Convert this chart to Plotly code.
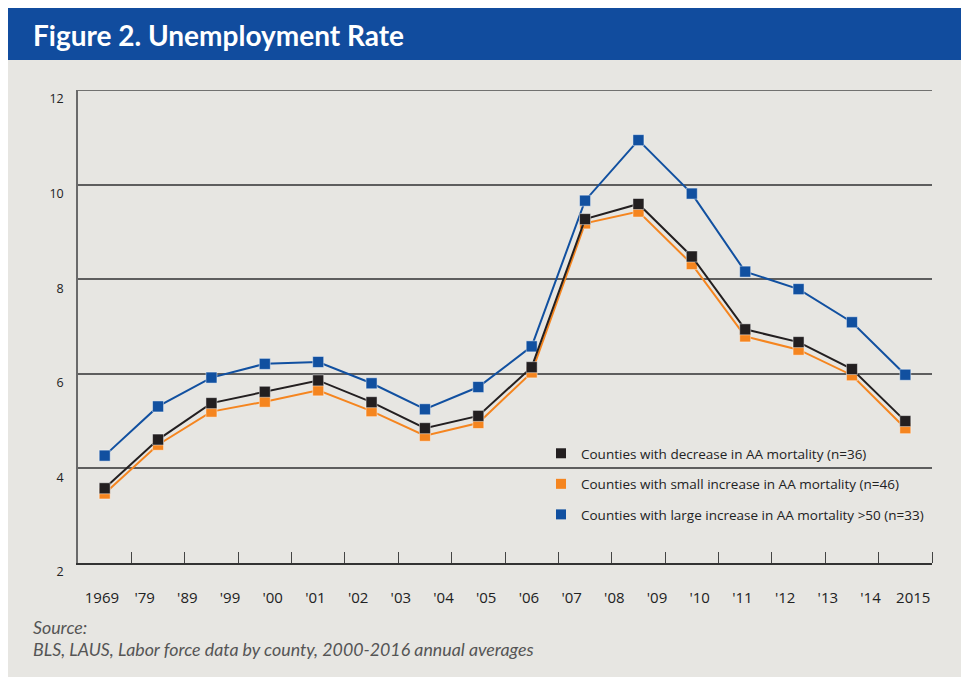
import plotly.graph_objects as go

# ---- data ----
years = list(range(2000, 2016))
decrease = [3.58, 4.61, 5.38, 5.62, 5.86, 5.40, 4.85, 5.11, 6.14, 9.27, 9.59, 8.48, 6.94, 6.67, 6.10, 5.00]
small_increase = [3.47, 4.50, 5.20, 5.41, 5.65, 5.21, 4.69, 4.96, 6.03, 9.18, 9.43, 8.32, 6.79, 6.51, 5.97, 4.85]
large_increase = [4.27, 5.31, 5.92, 6.21, 6.25, 5.80, 5.25, 5.72, 6.58, 9.66, 10.94, 9.81, 8.16, 7.79, 7.09, 5.98]
tick_labels = ["1969", "'79", "'89", "'99", "'00", "'01", "'02", "'03", "'04", "'05",
               "'06", "'07", "'08", "'09", "'10", "'11", "'12", "'13", "'14", "2015"]
y_ticks = [2, 4, 6, 8, 10, 12]
names = ["Counties with decrease in AA mortality (n=36)",
         "Counties with small increase in AA mortality (n=46)",
         "Counties with large increase in AA mortality >50 (n=33)"]

BLACK = "#231f20"
ORANGE = "#f5851f"
BLUE = "#1150a0"
BG = "#e7e6e2"

OFF = 8                      # page body margin (white frame)
W, H = 969 - OFF, 677 - OFF  # figure size
L, R, T, B = 78 - OFF, 37, 90 - OFF, 114
pw, ph = W - L - R, H - T - B

def px_x(p):      # page pixel -> paper
    return (p - OFF - L) / pw

def px_y(p):
    return (H - B - (p - OFF)) / ph

# axis spans one cell per year; the printed labels are spread evenly over the same span
x_lo, x_hi = years[0] - 0.5, years[-1] + 0.5
lab_step = (x_hi - x_lo) / len(tick_labels)
label_pos = [x_lo + (i + 0.56) * lab_step for i in range(len(tick_labels))]

fig = go.Figure()
mk_line = dict(color="rgba(255,255,255,0.45)", width=1)
for vals, col in [(large_increase, BLUE), (small_increase, ORANGE), (decrease, BLACK)]:
    fig.add_trace(go.Scatter(x=years, y=vals, mode="lines+markers",
                             line=dict(color=col, width=2),
                             marker=dict(symbol="square", size=11, color=col, line=mk_line),
                             showlegend=False, hoverinfo="skip"))
# legend entries (markers only)
for i, (nm, col) in enumerate(zip(names, [BLACK, ORANGE, BLUE])):
    fig.add_trace(go.Scatter(x=[None], y=[None], mode="markers", name=nm,
                             legendgroup=f"g{i}",
                             marker=dict(symbol="square", size=10, color=col)))

fig.update_layout(
    width=W, height=H,
    margin=dict(l=L, r=R, t=T, b=B),
    paper_bgcolor=BG, plot_bgcolor=BG,
    font=dict(family="Open Sans", color="#222"),
    xaxis=dict(range=[x_lo, x_hi],
               tickmode="array", tickvals=label_pos, ticktext=tick_labels,
               tickfont=dict(size=15, color="#222"),
               ticks="", ticklabelstandoff=20,
               minor=dict(tickmode="array", tickvals=[y + 0.5 for y in years],
                          ticks="inside", ticklen=11, tickcolor="#444", tickwidth=1.3,
                          showgrid=False),
               showgrid=False, zeroline=False,
               showline=True, linecolor="#333", linewidth=1.6),
    yaxis=dict(range=[y_ticks[0], y_ticks[-1]], tickvals=y_ticks,
               tickfont=dict(size=12.5, color="#222"),
               showgrid=True, gridcolor="#5e5e5e", gridwidth=1.5,
               zeroline=False, showline=True, linecolor="#6a6a6a", linewidth=1.6,
               ticks="", ticklabelshift=9, ticklabelstandoff=10),
    legend=dict(x=px_x(541), y=px_y(438), xanchor="left", yanchor="top",
                bgcolor="rgba(0,0,0,0)", font=dict(size=13.5, color="#222"),
                tracegroupgap=10, traceorder="grouped", itemwidth=30),
    showlegend=True,
)

# top frame line at the upper limit of the value axis
fig.add_shape(type="line", xref="paper", yref="y", x0=0, x1=1,
              y0=y_ticks[-1], y1=y_ticks[-1], line=dict(color="#4a4a4a", width=1.5))

# title bar
fig.add_shape(type="rect", xref="paper", yref="paper", layer="below",
              x0=px_x(OFF - 2), x1=px_x(975), y0=px_y(60), y1=px_y(OFF - 2),
              fillcolor="#114c9e", line_width=0)

fig.add_annotation(text="<b>Figure 2. Unemployment Rate</b>", xref="paper", yref="paper",
                   x=px_x(31), y=px_y(35), xanchor="left", yanchor="middle",
                   showarrow=False, font=dict(family="Lato", size=28, color="white"))
fig.add_annotation(text="<i>Source:</i>", xref="paper", yref="paper",
                   x=px_x(31), y=px_y(627), xanchor="left", yanchor="middle",
                   showarrow=False, font=dict(family="Lato", size=17.8, color="#555"))
fig.add_annotation(text="<i>BLS, LAUS, Labor force data by county, 2000-2016 annual averages</i>",
                   xref="paper", yref="paper",
                   x=px_x(31), y=px_y(649), xanchor="left", yanchor="middle",
                   showarrow=False, font=dict(family="Lato", size=17.8, color="#555"))

fig.write_html("out.html", config={"displayModeBar": False})
